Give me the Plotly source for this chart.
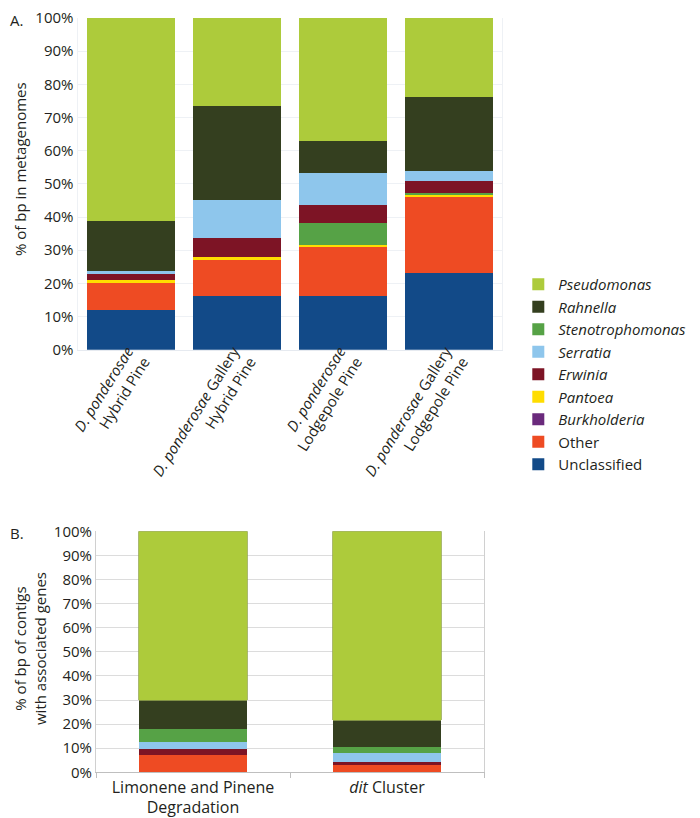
import plotly.graph_objects as go

# ---------------- Data ----------------
top_categories = [
    "<i>D. ponderosae</i><br>Hybrid Pine",
    "<i>D. ponderosae</i> Gallery<br>Hybrid Pine",
    "<i>D. ponderosae</i><br>Lodgepole Pine",
    "<i>D. ponderosae</i> Gallery<br>Lodgepole Pine",
]
bottom_categories = [
    "Limonene and Pinene<br>Degradation",
    "<i>dit</i> Cluster",
]

# Panel A (% of bp in metagenomes), per series, in category order
top_unclassified = [12.0, 16.2, 16.2, 23.2]
top_other = [8.3, 10.8, 14.9, 23.0]
top_burkholderia = [0.0, 0.0, 0.0, 0.0]
top_pantoea = [0.6, 1.0, 0.6, 0.6]
top_stenotrophomonas = [0.0, 0.0, 6.5, 0.4]
top_erwinia = [1.9, 5.7, 5.5, 3.6]
top_serratia = [1.0, 11.3, 9.6, 3.0]
top_rahnella = [15.0, 28.4, 9.5, 22.3]
top_pseudomonas = [61.2, 26.6, 37.2, 23.9]

# Panel B (% of bp of contigs with associated genes)
bot_unclassified = [0.0, 0.0]
bot_other = [7.0, 2.9]
bot_burkholderia = [0.0, 0.0]
bot_pantoea = [0.0, 0.0]
bot_erwinia = [2.5, 1.5]
bot_serratia = [3.1, 3.6]
bot_stenotrophomonas = [5.5, 2.5]
bot_rahnella = [11.8, 11.1]
bot_pseudomonas = [70.1, 78.4]

y_ticks = [0, 10, 20, 30, 40, 50, 60, 70, 80, 90, 100]
y_tick_labels = ["0%", "10%", "20%", "30%", "40%", "50%", "60%", "70%", "80%", "90%", "100%"]

# ---------------- Styles ----------------
colors = {
    "Pseudomonas": "#ADCB3B",
    "Rahnella": "#343F1F",
    "Stenotrophomonas": "#56A246",
    "Serratia": "#8EC6EC",
    "Erwinia": "#7D1425",
    "Pantoea": "#FFDD00",
    "Burkholderia": "#6A2A7C",
    "Other": "#EE4B23",
    "Unclassified": "#124A88",
}
legend_rank = {
    "Pseudomonas": 1, "Rahnella": 2, "Stenotrophomonas": 3, "Serratia": 4,
    "Erwinia": 5, "Pantoea": 6, "Burkholderia": 7, "Other": 8, "Unclassified": 9,
}
italic = {"Other": False, "Unclassified": False}

top_series = [
    ("Unclassified", top_unclassified),
    ("Other", top_other),
    ("Burkholderia", top_burkholderia),
    ("Pantoea", top_pantoea),
    ("Stenotrophomonas", top_stenotrophomonas),
    ("Erwinia", top_erwinia),
    ("Serratia", top_serratia),
    ("Rahnella", top_rahnella),
    ("Pseudomonas", top_pseudomonas),
]
bot_series = [
    ("Unclassified", bot_unclassified),
    ("Other", bot_other),
    ("Burkholderia", bot_burkholderia),
    ("Pantoea", bot_pantoea),
    ("Erwinia", bot_erwinia),
    ("Serratia", bot_serratia),
    ("Stenotrophomonas", bot_stenotrophomonas),
    ("Rahnella", bot_rahnella),
    ("Pseudomonas", bot_pseudomonas),
]

FONT = "Open Sans, Lato, sans-serif"
TXT = "#231F20"

fig = go.Figure()

for name, vals in top_series:
    label = name if not italic.get(name, True) else f"<i>{name}</i>"
    fig.add_trace(go.Bar(
        x=top_categories, y=vals, name=label,
        marker=dict(color=colors[name], line=dict(width=0)),
        width=0.83, xaxis="x", yaxis="y",
        legendgroup=name, legendrank=legend_rank[name], showlegend=True,
        hovertemplate="%{y}%<extra>" + name + "</extra>",
    ))

for name, vals in bot_series:
    line = dict(width=0)
    if name == "Pseudomonas":
        line = dict(width=0.8, color="#95A84E")
    fig.add_trace(go.Bar(
        x=bottom_categories, y=vals, name=name,
        marker=dict(color=colors[name], line=line),
        width=0.558, xaxis="x2", yaxis="y2",
        legendgroup=name, showlegend=False,
        hovertemplate="%{y}%<extra>" + name + "</extra>",
    ))

W, H = 700, 818

fig.update_layout(
    width=W, height=H,
    margin=dict(l=0, r=0, t=0, b=0, autoexpand=False),
    paper_bgcolor="white", plot_bgcolor="white",
    barmode="stack",
    font=dict(family=FONT, size=15, color=TXT),
    showlegend=True,
    legend=dict(
        x=0.729, y=0.682, xanchor="left", yanchor="top",
        traceorder="normal", tracegroupgap=0,
        font=dict(family=FONT, size=15, color=TXT),
        bgcolor="rgba(0,0,0,0)",
    ),
    xaxis=dict(
        domain=[69.5 / W, 494 / W], anchor="y",
        range=[-0.5, 3.5], tickangle=-58,
        showline=True, linecolor="#E6EAF0", ticks="", showgrid=False,
        tickfont=dict(size=15), automargin=False,
        ticklabelshift=-3, ticklabelstandoff=-14,
    ),
    yaxis=dict(
        domain=[1 - 341.7 / H, 1 - 10 / H], anchor="x",
        range=[0, 100], tickmode="array", tickvals=y_ticks, ticktext=y_tick_labels,
        ticklabeloverflow="allow",
        showgrid=True, gridcolor="#EEF1F5", zeroline=False,
        showline=True, linecolor="#EEF1F5", mirror=True,
        ticks="", tickfont=dict(size=15), automargin=False,
    ),
    xaxis2=dict(
        domain=[88 / W, 476 / W], anchor="y2",
        range=[-0.5, 1.5],
        showline=True, linecolor="#BFBFBF", ticks="outside", tickson="boundaries",
        ticklen=5, tickcolor="#BFBFBF", showgrid=False,
        tickfont=dict(size=16), automargin=False,
    ),
    yaxis2=dict(
        domain=[1 - 764.3 / H, 1 - 523.3 / H], anchor="x2",
        range=[0, 100], tickmode="array", tickvals=y_ticks, ticktext=y_tick_labels,
        ticklabeloverflow="allow",
        showgrid=True, gridcolor="#DCDCDC", zeroline=False,
        showline=True, linecolor="#D0D0D0", mirror=True,
        ticks="", tickfont=dict(size=15), automargin=False,
    ),
    annotations=[
        dict(text="A.", x=0, y=1, xref="paper", yref="paper", xanchor="left",
             yanchor="top", showarrow=False, font=dict(size=15, color=TXT)),
        dict(text="B.", x=0, y=1 - 513 / H, xref="paper", yref="paper", xanchor="left",
             yanchor="top", showarrow=False, font=dict(size=15, color=TXT)),
        # y-axis titles
        dict(text="% of bp in metagenomes", textangle=-90,
             x=12 / W, y=1 - 161 / H, xref="paper", yref="paper",
             xanchor="center", yanchor="middle", showarrow=False,
             font=dict(size=15, color=TXT)),
        dict(text="% of bp of contigs<br>with associated genes", textangle=-90,
             x=22 / W, y=1 - 641 / H, xref="paper", yref="paper",
             xanchor="center", yanchor="middle", showarrow=False,
             font=dict(size=15, color=TXT)),
    ],
)

fig.write_html("out.html")
